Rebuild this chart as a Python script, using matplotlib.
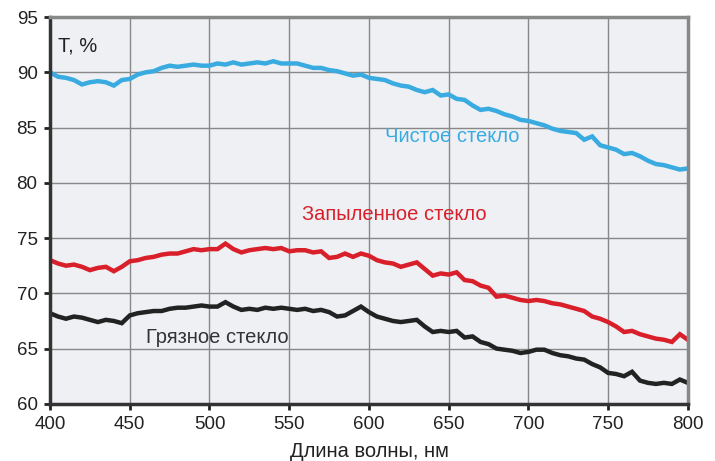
import numpy as np
import matplotlib
matplotlib.use("Agg")
import matplotlib.pyplot as plt

plt.rcParams['font.family'] = ['Liberation Sans', 'DejaVu Sans']

# wavelength grid, nm (step 5)
wavelength = np.arange(400, 801, 5)

# clean glass, %
clean = [90.0, 89.6, 89.5, 89.3, 88.9, 89.1, 89.2, 89.1, 88.8, 89.3,
         89.4, 89.8, 90.0, 90.1, 90.4, 90.6, 90.5, 90.6, 90.7, 90.6,
         90.6, 90.8, 90.7, 90.9, 90.7, 90.8, 90.9, 90.8, 91.0, 90.8,
         90.8, 90.8, 90.6, 90.4, 90.4, 90.2, 90.1, 89.9, 89.7, 89.8,
         89.5, 89.4, 89.3, 89.0, 88.8, 88.7, 88.4, 88.2, 88.4, 87.9,
         88.0, 87.6, 87.5, 87.0, 86.6, 86.7, 86.5, 86.2, 86.0, 85.7,
         85.6, 85.4, 85.2, 84.9, 84.7, 84.6, 84.5, 83.9, 84.2, 83.4,
         83.2, 83.0, 82.6, 82.7, 82.4, 82.0, 81.7, 81.6, 81.4, 81.2,
         81.3]

# dusty glass, %
dusty = [73.0, 72.7, 72.5, 72.6, 72.4, 72.1, 72.3, 72.4, 72.0, 72.4,
         72.9, 73.0, 73.2, 73.3, 73.5, 73.6, 73.6, 73.8, 74.0, 73.9,
         74.0, 74.0, 74.5, 74.0, 73.7, 73.9, 74.0, 74.1, 74.0, 74.1,
         73.8, 73.9, 73.9, 73.7, 73.8, 73.2, 73.3, 73.6, 73.3, 73.6,
         73.4, 73.0, 72.8, 72.7, 72.4, 72.6, 72.8, 72.2, 71.6, 71.8,
         71.7, 71.9, 71.2, 71.1, 70.7, 70.5, 69.7, 69.8, 69.6, 69.4,
         69.3, 69.4, 69.3, 69.1, 69.0, 68.8, 68.6, 68.4, 67.9, 67.7,
         67.4, 67.0, 66.5, 66.6, 66.3, 66.1, 65.9, 65.8, 65.6, 66.3,
         65.8]

# dirty glass, %
dirty = [68.2, 67.9, 67.7, 67.9, 67.8, 67.6, 67.4, 67.6, 67.5, 67.3,
         68.0, 68.2, 68.3, 68.4, 68.4, 68.6, 68.7, 68.7, 68.8, 68.9,
         68.8, 68.8, 69.2, 68.8, 68.5, 68.6, 68.5, 68.7, 68.6, 68.7,
         68.6, 68.5, 68.6, 68.4, 68.5, 68.3, 67.9, 68.0, 68.4, 68.8,
         68.3, 67.9, 67.7, 67.5, 67.4, 67.5, 67.6, 67.0, 66.5, 66.6,
         66.5, 66.6, 66.0, 66.1, 65.6, 65.4, 65.0, 64.9, 64.8, 64.6,
         64.7, 64.9, 64.9, 64.6, 64.4, 64.3, 64.1, 64.0, 63.6, 63.3,
         62.8, 62.7, 62.5, 62.9, 62.1, 61.9, 61.8, 61.9, 61.8, 62.2,
         61.9]

fig = plt.figure(figsize=(7.15, 4.61), dpi=100)
ax = fig.add_axes([0.07, 0.124, 0.892, 0.839])
ax.set_facecolor('#eef0f4')

ax.plot(wavelength, clean, color='#39abe0', lw=3.2, solid_joinstyle='miter')
ax.plot(wavelength, dusty, color='#d91f2a', lw=3.2, solid_joinstyle='miter')
ax.plot(wavelength, dirty, color='#222222', lw=3.2, solid_joinstyle='miter')

ax.set_xlim(400, 800)
ax.set_ylim(60, 95)
ax.set_xticks(range(400, 801, 50))
ax.set_yticks(range(60, 96, 5))
ax.grid(True, color='#888888', lw=1)
ax.set_axisbelow(True)

for s in ['left', 'bottom']:
    ax.spines[s].set_color('#333333')
    ax.spines[s].set_linewidth(2.5)
for s in ['top', 'right']:
    ax.spines[s].set_color('#888888')
    ax.spines[s].set_linewidth(2.5)

ax.tick_params(axis='both', labelsize=13.5, colors='#222222', length=4, width=2, pad=5)

ax.text(405, 92.4, 'Т, %', fontsize=14.5, color='#222222', va='center')
ax.text(652, 84.2, 'Чистое стекло', fontsize=14.5, color='#39abe0', ha='center', va='center')
ax.text(616, 77.1, 'Запыленное стекло', fontsize=14.5, color='#d91f2a', ha='center', va='center')
ax.text(505, 66.0, 'Грязное стекло', fontsize=14.5, color='#333333', ha='center', va='center')

ax.set_xlabel('Длина волны, нм', fontsize=14.5, color='#222222', labelpad=6)

fig.savefig('out.png', dpi=100)
